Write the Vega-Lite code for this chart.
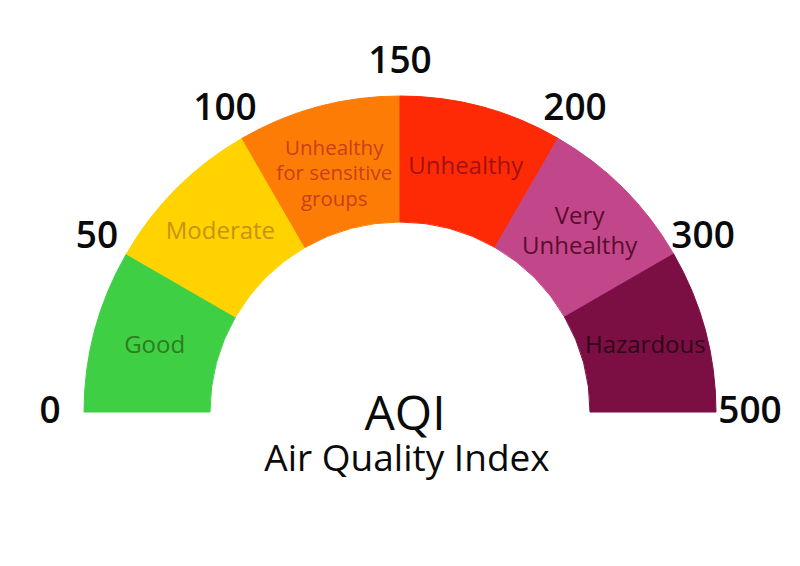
{
  "$schema": "https://vega.github.io/schema/vega-lite/v6.json",
  "width": 800,
  "height": 566,
  "autosize": {"type": "fit", "contains": "padding"},
  "padding": 0,
  "background": "white",
  "config": {"view": {"stroke": null}, "font": "Open Sans"},
  "datasets": {
    "segments": [
      {"category": "Good", "label": ["Good"], "i0": 0, "i1": 1, "mid": 0.5},
      {"category": "Moderate", "label": ["Moderate"], "i0": 1, "i1": 2, "mid": 1.5},
      {"category": "Unhealthy for sensitive groups", "label": ["Unhealthy", "for sensitive", "groups"], "i0": 2, "i1": 3, "mid": 2.5},
      {"category": "Unhealthy", "label": ["Unhealthy"], "i0": 3, "i1": 4, "mid": 3.5},
      {"category": "Very Unhealthy", "label": ["Very", "Unhealthy"], "i0": 4, "i1": 5, "mid": 4.5},
      {"category": "Hazardous", "label": ["Hazardous"], "i0": 5, "i1": 6, "mid": 5.5}
    ],
    "bounds": [
      {"aqi": "0", "idx": 0},
      {"aqi": "50", "idx": 1},
      {"aqi": "100", "idx": 2},
      {"aqi": "150", "idx": 3},
      {"aqi": "200", "idx": 4},
      {"aqi": "300", "idx": 5},
      {"aqi": "500", "idx": 6}
    ],
    "titles": [
      {"text": "AQI", "line": 0},
      {"text": "Air Quality Index", "line": -58}
    ]
  },
  "encoding": {
    "x": {"datum": 0, "type": "quantitative", "scale": {"domain": [-400, 400], "nice": false, "zero": false}, "axis": null},
    "y": {"datum": 0, "type": "quantitative", "scale": {"domain": [-154, 412], "nice": false, "zero": false}, "axis": null}
  },
  "layer": [
    {
      "data": {"name": "segments"},
      "mark": {"type": "arc", "radius": 316, "radius2": 190, "padAngle": 0},
      "encoding": {
        "theta": {"field": "i0", "type": "quantitative", "stack": null, "scale": {"domain": [0, 6], "range": [-1.5707963, 1.5707963]}},
        "theta2": {"field": "i1"},
        "color": {
          "field": "category", "type": "nominal", "legend": null,
          "scale": {
            "domain": ["Good", "Moderate", "Unhealthy for sensitive groups", "Unhealthy", "Very Unhealthy", "Hazardous"],
            "range": ["#3ecf45", "#ffd200", "#fd7c06", "#fe2a05", "#c1478a", "#7b0f43"]
          }
        },
        "stroke": {
          "field": "category", "type": "nominal", "legend": null,
          "scale": {
            "domain": ["Good", "Moderate", "Unhealthy for sensitive groups", "Unhealthy", "Very Unhealthy", "Hazardous"],
            "range": ["#3ecf45", "#ffd200", "#fd7c06", "#fe2a05", "#c1478a", "#7b0f43"]
          }
        }
      }
    },
    {
      "data": {"name": "segments"},
      "mark": {
        "type": "text", "radius": 254, "align": "center", "baseline": "middle",
        "lineHeight": {"expr": "datum.category == 'Unhealthy for sensitive groups' ? 25.5 : 30"},
        "fontSize": {"expr": "datum.category == 'Unhealthy for sensitive groups' ? 20.5 : 24"},
        "dy": {"expr": "datum.category == 'Unhealthy for sensitive groups' ? -18 : (datum.category == 'Very Unhealthy' ? -15 : 0)"}
      },
      "encoding": {
        "theta": {"field": "mid", "type": "quantitative", "stack": null},
        "text": {"field": "label"},
        "fill": {
          "field": "category", "type": "nominal", "legend": null,
          "scale": {
            "domain": ["Good", "Moderate", "Unhealthy for sensitive groups", "Unhealthy", "Very Unhealthy", "Hazardous"],
            "range": ["#2e7d1e", "#c9920e", "#c8401a", "#a31212", "#5a0c2e", "#2e0616"]
          }
        }
      }
    },
    {
      "data": {"name": "bounds"},
      "mark": {"type": "text", "radius": 350, "align": "center", "baseline": "middle", "fontSize": 37, "fontWeight": 600, "color": "#0a0a0a"},
      "encoding": {
        "theta": {"field": "idx", "type": "quantitative", "stack": null},
        "text": {"field": "aqi"}
      }
    },
    {
      "data": {"name": "titles"},
      "transform": [{"filter": "datum.line == 0"}],
      "mark": {"type": "text", "align": "center", "baseline": "alphabetic", "fontSize": 48, "dx": 5, "dy": 18, "color": "#0a0a0a"},
      "encoding": {"text": {"field": "text"}}
    },
    {
      "data": {"name": "titles"},
      "transform": [{"filter": "datum.line != 0"}],
      "mark": {"type": "text", "align": "center", "baseline": "alphabetic", "fontSize": 37, "dx": 7, "dy": 59, "color": "#0a0a0a"},
      "encoding": {"text": {"field": "text"}}
    }
  ],
  "resolve": {"scale": {"color": "independent", "fill": "independent"}}
}
